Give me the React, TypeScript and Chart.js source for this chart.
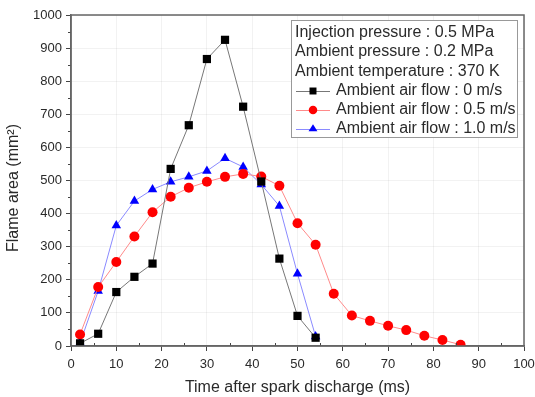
import React, { useEffect, useRef } from "react";
import { Chart, registerables } from "chart.js";

Chart.register(...registerables);

const timeMs0 = [2, 6, 10, 14, 18, 22, 26, 30, 34, 38, 42, 46, 50, 54];
const flow0 = [8, 37, 163, 209, 249, 535, 667, 867, 925, 723, 497, 264, 91, 25];

const timeMs05 = [2, 6, 10, 14, 18, 22, 26, 30, 34, 38, 42, 46, 50, 54, 58, 62, 66, 70, 74, 78, 82, 86];
const flow05 = [35, 178, 254, 331, 404, 451, 478, 496, 511, 520, 512, 484, 371, 306, 158, 92, 76, 61, 48, 31, 18, 4];

const timeMs10 = [2, 6, 10, 14, 18, 22, 26, 30, 34, 38, 42, 46, 50, 54];
const flow10 = [9, 166, 364, 438, 473, 496, 511, 529, 567, 541, 488, 423, 218, 29];

const infoLines = [
  "Injection pressure : 0.5 MPa",
  "Ambient pressure : 0.2 MPa",
  "Ambient temperature : 370 K",
];
const seriesLabels = [
  "Ambient air flow : 0 m/s",
  "Ambient air flow : 0.5 m/s",
  "Ambient air flow : 1.0 m/s",
];
const xTitle = "Time after spark discharge (ms)";
const yTitle = "Flame area (mm²)";

const FONT = "'Liberation Sans', Arial, sans-serif";
const TEXT = "#2a2a2a";

function pts(xs: number[], ys: number[]) {
  return xs.map((x, i) => ({ x, y: ys[i] }));
}

function drawMarker(ctx: CanvasRenderingContext2D, style: string, x: number, y: number, r: number, color: string) {
  ctx.save();
  ctx.fillStyle = color;
  ctx.beginPath();
  if (style === "rect") {
    const s = r / Math.SQRT2;
    ctx.rect(x - s, y - s, 2 * s, 2 * s);
  } else if (style === "circle") {
    ctx.arc(x, y, r, 0, Math.PI * 2);
  } else {
    const h = r * 1.5;
    ctx.moveTo(x, y - r);
    ctx.lineTo(x + r * 0.95, y + h - r);
    ctx.lineTo(x - r * 0.95, y + h - r);
    ctx.closePath();
  }
  ctx.fill();
  ctx.restore();
}

const framePlugin = {
  id: "frameAndExtras",
  afterDatasetsDraw(chart: any) {
    const { ctx, chartArea } = chart;
    const xs = chart.scales.x;
    const ys = chart.scales.y;
    ctx.save();
    ctx.strokeStyle = "#444";
    ctx.lineWidth = 1;
    for (let v = 5; v < 100; v += 10) {
      const px = Math.round(xs.getPixelForValue(v)) + 0.5;
      ctx.beginPath();
      ctx.moveTo(px, chartArea.bottom);
      ctx.lineTo(px, chartArea.bottom - 3);
      ctx.stroke();
    }
    for (let v = 50; v < 1000; v += 100) {
      const py = Math.round(ys.getPixelForValue(v)) + 0.5;
      ctx.beginPath();
      ctx.moveTo(chartArea.left, py);
      ctx.lineTo(chartArea.left - 3, py);
      ctx.stroke();
    }
    ctx.strokeStyle = "#666";
    ctx.lineWidth = 1.5;
    ctx.strokeRect(chartArea.left, chartArea.top, chartArea.right - chartArea.left, chartArea.bottom - chartArea.top);
    ctx.restore();
  },
  afterDraw(chart: any) {
    const { ctx } = chart;
    ctx.save();
    ctx.font = `16px ${FONT}`;
    ctx.fillStyle = TEXT;
    ctx.textAlign = "center";
    ctx.textBaseline = "middle";
    ctx.translate(14, 188);
    ctx.rotate(-Math.PI / 2);
    ctx.fillText(yTitle, 0, 0);
    ctx.restore();

    const bx = 291, by = 20, bw = 226, bh = 117;
    ctx.save();
    ctx.fillStyle = "#fff";
    ctx.fillRect(bx, by, bw, bh);
    ctx.strokeStyle = "#999";
    ctx.lineWidth = 1;
    ctx.strokeRect(bx + 0.5, by + 0.5, bw, bh);
    ctx.font = `16px ${FONT}`;
    ctx.fillStyle = TEXT;
    ctx.textBaseline = "middle";
    ctx.textAlign = "left";
    const rows = [33, 52, 72, 91, 110, 129];
    infoLines.forEach((t, i) => ctx.fillText(t, 295, rows[i]));
    chart.data.datasets.forEach((ds: any, i: number) => {
      const y = rows[3 + i];
      ctx.strokeStyle = ds.borderColor;
      ctx.lineWidth = 1;
      ctx.beginPath();
      ctx.moveTo(296, y + 0.5);
      ctx.lineTo(330, y + 0.5);
      ctx.stroke();
      drawMarker(ctx, ds.pointStyle, 313, y, ds.pointRadius * 0.85, ds.pointBackgroundColor);
      ctx.fillStyle = TEXT;
      ctx.fillText(seriesLabels[i], 336, y);
    });
    ctx.restore();
  },
};

export default function App() {
  const ref = useRef<HTMLCanvasElement>(null);
  useEffect(() => {
    if (!ref.current) return;
    const chart = new Chart(ref.current, {
      type: "line",
      data: {
        datasets: [
          {
            label: seriesLabels[0],
            data: pts(timeMs0, flow0),
            borderColor: "#777",
            borderWidth: 1,
            pointStyle: "rect",
            pointRadius: 5.8,
            pointBackgroundColor: "#000",
            pointBorderColor: "#000",
            pointBorderWidth: 0,
          },
          {
            label: seriesLabels[1],
            data: pts(timeMs05, flow05),
            borderColor: "#ff8a8a",
            borderWidth: 1,
            pointStyle: "circle",
            pointRadius: 5,
            pointBackgroundColor: "#ff0000",
            pointBorderColor: "#ff0000",
            pointBorderWidth: 0,
          },
          {
            label: seriesLabels[2],
            data: pts(timeMs10, flow10),
            borderColor: "#8a8aff",
            borderWidth: 1,
            pointStyle: "triangle",
            pointRadius: 5.5,
            pointBackgroundColor: "#0000ff",
            pointBorderColor: "#0000ff",
            pointBorderWidth: 0,
          },
        ],
      },
      options: {
        animation: false,
        responsive: false,
        maintainAspectRatio: false,
        layout: { padding: { left: 0, right: 11, top: 15, bottom: 0 } },
        plugins: { legend: { display: false }, tooltip: { enabled: false } },
        elements: { line: { tension: 0 } },
        scales: {
          x: {
            type: "linear",
            min: 0,
            max: 100,
            ticks: {
              stepSize: 10,
              color: TEXT,
              font: { family: FONT, size: 13 },
              padding: 6,
              maxRotation: 0,
              callback: (v: any) => String(v),
            },
            grid: { color: "rgba(0,0,0,0.05)", tickColor: "#444", tickLength: 5, drawTicks: true },
            border: { color: "#666", width: 1.5 },
            title: {
              display: true,
              text: xTitle,
              color: TEXT,
              font: { family: FONT, size: 16 },
              padding: { top: 0, bottom: 0 },
            },
            afterFit: (s: any) => {
              s.height = 51;
              s.paddingLeft = 0;
              s.paddingRight = 0;
            },
          },
          y: {
            type: "linear",
            min: 0,
            max: 1000,
            ticks: {
              stepSize: 100,
              color: TEXT,
              font: { family: FONT, size: 13 },
              padding: 4,
              callback: (v: any) => String(v),
            },
            grid: { color: "rgba(0,0,0,0.05)", tickColor: "#444", tickLength: 5, drawTicks: true },
            border: { color: "#666", width: 1.5 },
            afterFit: (s: any) => {
              s.width = 71;
              s.paddingTop = 0;
              s.paddingBottom = 0;
            },
          },
        },
      },
      plugins: [framePlugin],
    });
    return () => chart.destroy();
  }, []);
  return (
    <div style={{ position: "fixed", left: 0, top: 0, width: 535, height: 397, background: "#fff" }}>
      <canvas ref={ref} width={535} height={397} style={{ display: "block", width: 535, height: 397 }} />
    </div>
  );
}
